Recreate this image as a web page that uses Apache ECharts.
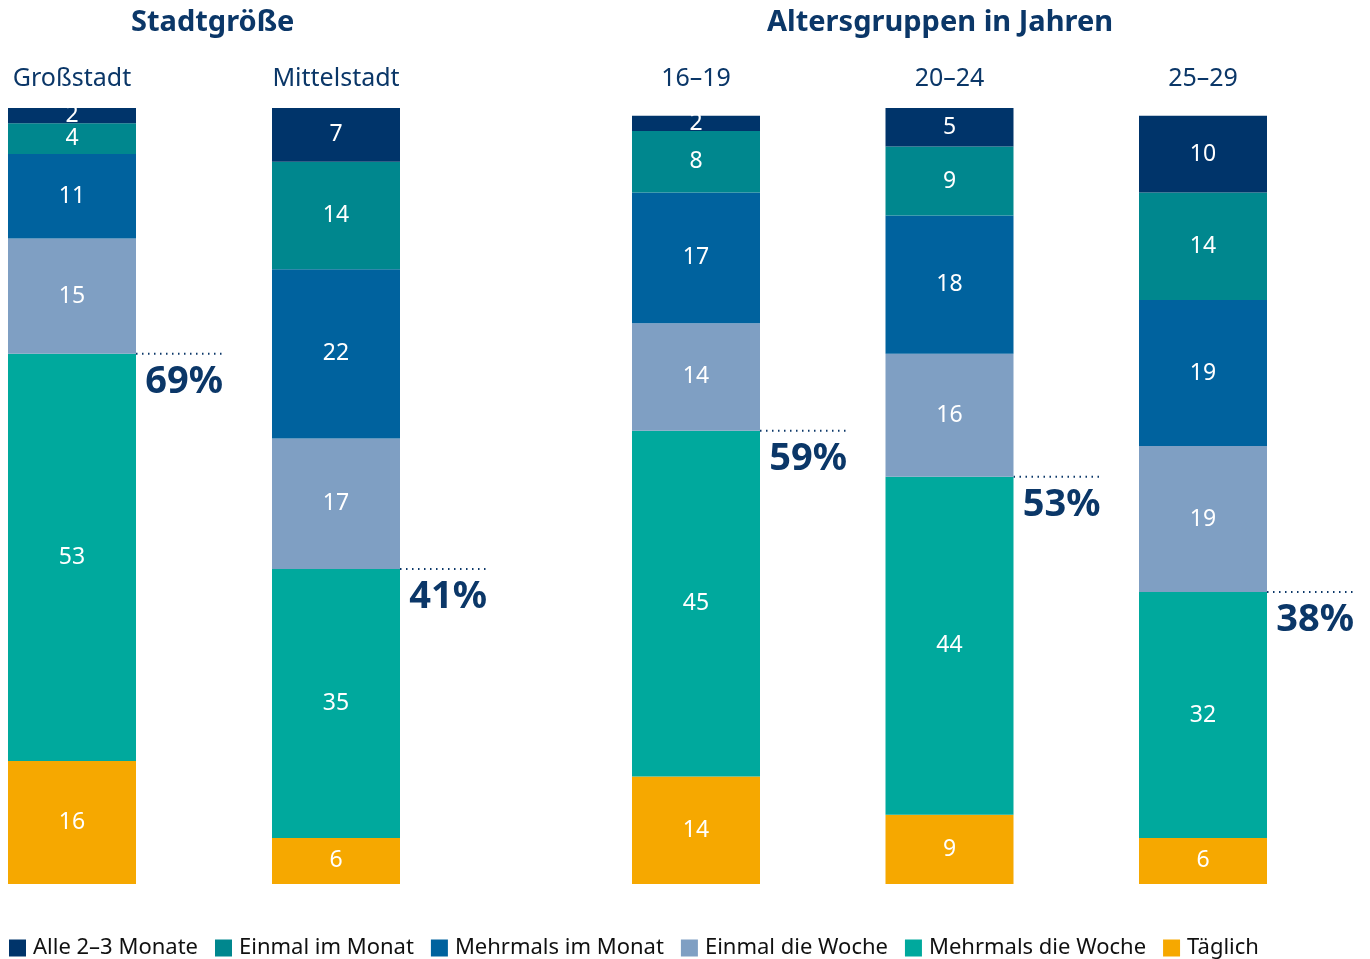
<!DOCTYPE html>
<html>
<head>
<meta charset="utf-8">
<title>Stadtgröße / Altersgruppen</title>
<script src="https://cdn.jsdelivr.net/npm/echarts@6/dist/echarts.min.js"></script>
<style>
  html, body { margin: 0; padding: 0; background: #fff; }
  #chart { width: 1370px; height: 959px; }
</style>
</head>
<body>
<div id="chart"></div>
<script>
// categories
const cityCats = ['Großstadt', 'Mittelstadt'];
const ageCats = ['16–19', '20–24', '25–29'];

// values per bar: Großstadt, Mittelstadt, 16–19, 20–24, 25–29
const taeglich = [16, 6, 14, 9, 6];
const mehrmalsWoche = [53, 35, 45, 44, 32];
const einmalWoche = [15, 17, 14, 16, 19];
const mehrmalsMonat = [11, 22, 17, 18, 19];
const einmalMonat = [4, 14, 8, 9, 14];
const alle23 = [2, 7, 2, 5, 10];
// mindestens wöchentlich (Täglich + Mehrmals die Woche)
const weeklyShare = [69, 41, 59, 53, 38];

const navy = '#0b3768';
const font = 'Noto Sans';

// bottom of stack first
const stackSeries = [
  { name: 'Täglich', data: taeglich, color: '#f6a800' },
  { name: 'Mehrmals die Woche', data: mehrmalsWoche, color: '#00a99d' },
  { name: 'Einmal die Woche', data: einmalWoche, color: '#7f9fc3' },
  { name: 'Mehrmals im Monat', data: mehrmalsMonat, color: '#00629e' },
  { name: 'Einmal im Monat', data: einmalMonat, color: '#00878e' },
  { name: 'Alle 2–3 Monate', data: alle23, color: '#00346a' }
];

const chart = echarts.init(document.getElementById('chart'));

function barSeries(gridIdx, from, to) {
  return stackSeries.map(s => ({
    name: s.name,
    type: 'bar',
    xAxisIndex: gridIdx,
    yAxisIndex: gridIdx,
    stack: 'g' + gridIdx,
    barWidth: 128,
    clip: false,
    data: s.data.slice(from, to),
    itemStyle: { color: s.color },
    label: {
      show: true,
      position: 'inside',
      color: '#fff',
      fontFamily: font,
      fontSize: 23
    }
  }));
}

// dotted line + percentage next to each bar
function shareSeries(gridIdx, from, to) {
  return {
    type: 'custom',
    xAxisIndex: gridIdx,
    yAxisIndex: gridIdx,
    clip: false,
    silent: true,
    data: weeklyShare.slice(from, to).map((v, i) => [i, v]),
    renderItem: function (params, api) {
      const p = api.coord([api.value(0), api.value(1)]);
      const x0 = p[0] + 64;
      const x1 = p[0] + 151;
      return {
        type: 'group',
        children: [
          {
            type: 'line',
            shape: { x1: x0, y1: p[1], x2: x1, y2: p[1] },
            style: { stroke: navy, lineWidth: 2, lineDash: [1.5, 4.5] }
          },
          {
            type: 'text',
            style: {
              text: api.value(1) + '%',
              x: x1,
              y: p[1] + 28,
              align: 'right',
              verticalAlign: 'middle',
              fill: navy,
              font: 'bold 38px "' + font + '"'
            }
          }
        ]
      };
    }
  };
}

const xAxisBase = {
  type: 'category',
  position: 'top',
  boundaryGap: false,
  axisLine: { show: false },
  axisTick: { show: false },
  axisLabel: { color: navy, fontFamily: font, fontSize: 25, margin: 17 }
};
const yAxisBase = { type: 'value', min: 0, max: 101, show: false, splitLine: { show: false } };

chart.setOption({
  animation: false,
  backgroundColor: '#fff',
  textStyle: { fontFamily: font },
  grid: [
    { left: 72, width: 264, top: 108, height: 776 },
    { left: 696, width: 507, top: 108, height: 776 }
  ],
  xAxis: [
    Object.assign({ gridIndex: 0, data: cityCats }, xAxisBase),
    Object.assign({ gridIndex: 1, data: ageCats }, xAxisBase)
  ],
  yAxis: [
    Object.assign({ gridIndex: 0 }, yAxisBase),
    Object.assign({ gridIndex: 1 }, yAxisBase)
  ],
  legend: {
    data: stackSeries.map(s => s.name).reverse(),
    left: 4,
    bottom: -5,
    icon: 'rect',
    itemWidth: 17,
    itemHeight: 17,
    itemGap: 17,
    textStyle: { color: '#111', fontFamily: font, fontSize: 22, padding: [0, 0, 0, 2] }
  },
  graphic: [
    {
      type: 'text', left: 131, top: 8,
      style: { text: 'Stadtgröße', fill: navy, font: 'bold 29px "' + font + '"' }
    },
    {
      type: 'text', left: 767, top: 8,
      style: { text: 'Altersgruppen in Jahren', fill: navy, font: 'bold 29px "' + font + '"' }
    }
  ],
  series: [].concat(
    barSeries(0, 0, 2),
    barSeries(1, 2, 5),
    [shareSeries(0, 0, 2), shareSeries(1, 2, 5)]
  )
});
</script>
</body>
</html>
